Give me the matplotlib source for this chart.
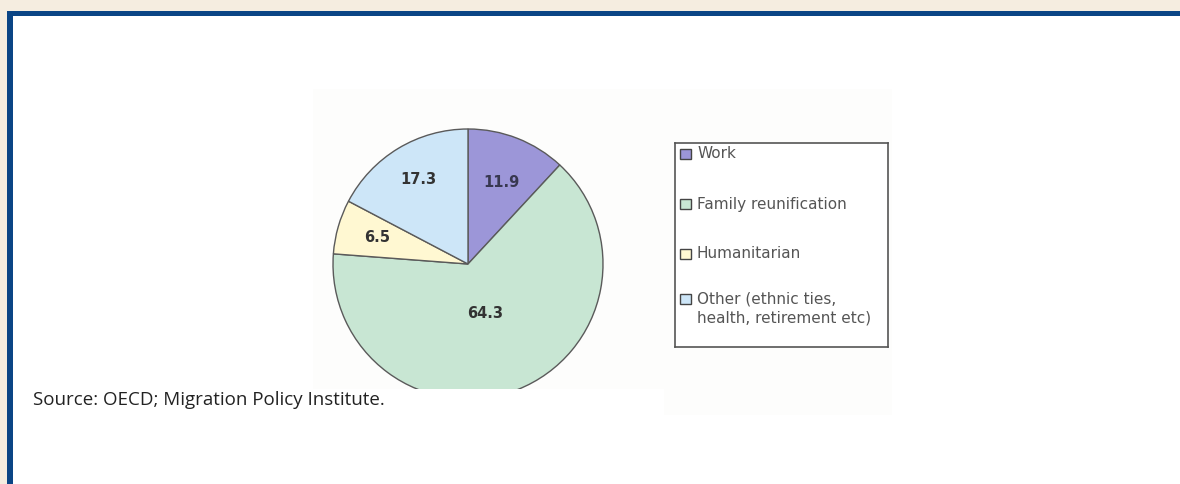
import matplotlib.pyplot as plt
from matplotlib.patches import Rectangle

# data
categories = ['Work', 'Family reunification', 'Humanitarian', 'Other']
shares = [11.9, 64.3, 6.5, 17.3]
legend_labels = ['Work', 'Family reunification', 'Humanitarian',
                 'Other (ethnic ties,\nhealth, retirement etc)']
colors = ['#9c96d8', '#c8e6d3', '#fff8d2', '#cde6f8']
source_note = 'Source: OECD; Migration Policy Institute.'

W, H = 1180, 485
fig = plt.figure(figsize=(W / 100, H / 100), dpi=100, facecolor='#f5ede0')


def px_rect(x0, y0, x1, y1, z, **kw):
    # rectangle given in pixel coords (origin top-left)
    r = Rectangle((x0 / W, 1 - y1 / H), (x1 - x0) / W, (y1 - y0) / H,
                  transform=fig.transFigure, zorder=z, **kw)
    fig.add_artist(r)
    return r


# blue frame and white panel
px_rect(7, 12, W + 10, H + 10, -5, facecolor='#0b4585', edgecolor='none')
px_rect(12.7, 17, W + 10, H + 10, -4, facecolor='white', edgecolor='none')

# faint tint of the pasted chart image
px_rect(313, 90, 892, 390, -3, facecolor='#fdfdfc', edgecolor='none')
px_rect(664, 390, 892, 416, -3, facecolor='#fdfdfc', edgecolor='none')

# pie: centre (468, 265) px, radius 135 px, cropped at y=390
R = 135.0
cx, cy = 468, 265
ax_l, ax_r, ax_t, ax_b = 328, 608, 124, 390
ax = fig.add_axes([ax_l / W, 1 - ax_b / H, (ax_r - ax_l) / W, (ax_b - ax_t) / H])
ax.patch.set_visible(False)

wedges, texts = ax.pie(shares, colors=colors, startangle=90, counterclock=False,
                       radius=1.0, wedgeprops=dict(edgecolor='#5a5a5a', linewidth=1.0),
                       frame=True)
for w in wedges:
    w.set_clip_on(True)
    w.set_clip_path(ax.patch)
ax.set_aspect('auto')
ax.set_xlim((ax_l - cx) / R, (ax_r - cx) / R)
ax.set_ylim((cy - ax_b) / R, (cy - ax_t) / R)
ax.set_xticks([])
ax.set_yticks([])
for s in ax.spines.values():
    s.set_visible(False)

# value labels placed as in the original
label_pos = [(0.25, 0.61), (0.13, -0.36), (-0.67, 0.2), (-0.37, 0.63)]
label_cols = ['#383850', '#333333', '#333333', '#333333']
for v, (lx, ly), c in zip(shares, label_pos, label_cols):
    ax.text(lx, ly, f'{v:.1f}', ha='center', va='center', fontsize=10.5,
            fontweight='bold', color=c, family='DejaVu Sans')

# legend box drawn as its own axes
lg = fig.add_axes([675 / W, 1 - 348 / H, (888 - 675) / W, (348 - 144) / H])
lg.set_xlim(0, 213)
lg.set_ylim(204, 0)
lg.set_xticks([])
lg.set_yticks([])
lg.patch.set_facecolor('white')
for s in lg.spines.values():
    s.set_color('#555555')
    s.set_linewidth(1.2)

entry_y = [11, 61, 111, 156]
for lab, col, y in zip(legend_labels, colors, entry_y):
    lg.add_patch(Rectangle((5, y - 5), 11, 10, facecolor=col, edgecolor='#444444',
                           linewidth=1.0))
    lg.text(22, y - 8.5, lab, ha='left', va='top', fontsize=11, color='#555555',
            family='DejaVu Sans', linespacing=1.3)

fig.text(33 / W, 1 - 400 / H, source_note, ha='left', va='center', fontsize=13.5,
         color='#222222', family='Open Sans')

fig.savefig('out.png', dpi=100, facecolor=fig.get_facecolor())
